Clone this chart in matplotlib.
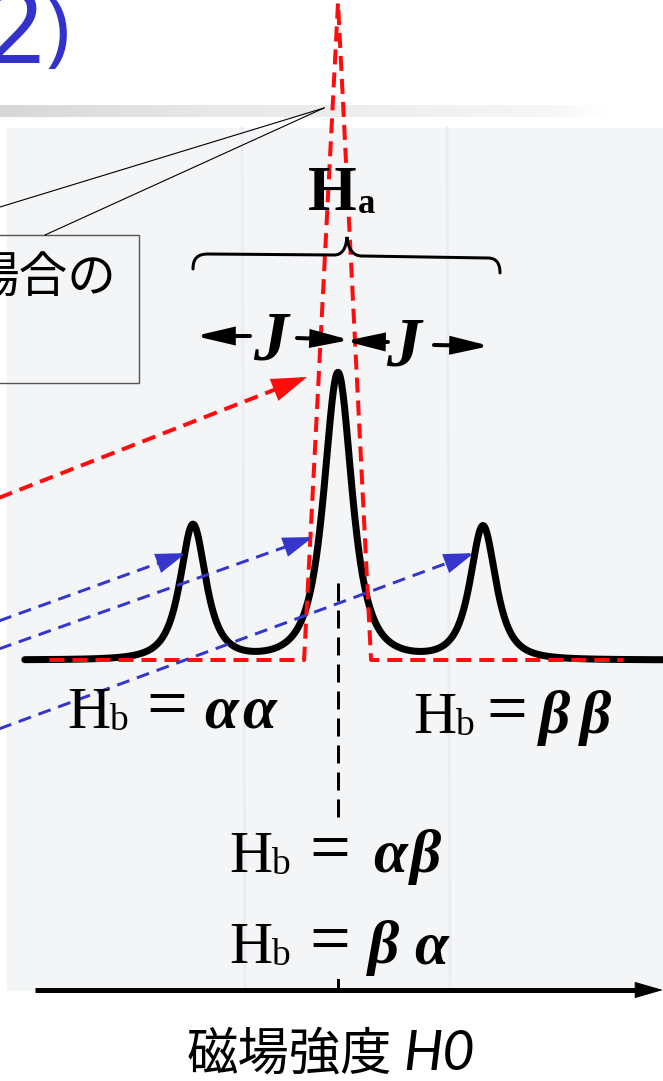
import matplotlib
matplotlib.use('Agg')
import matplotlib.pyplot as plt
import numpy as np
from matplotlib.patches import Rectangle, FancyArrowPatch, PathPatch
from matplotlib.path import Path

plt.rcParams['lines.scale_dashes'] = False

# H_a triplet split by two equivalent H_b; offsets in units of J
peak_pos = [-1.0, 0.0, 1.0]
peak_height = [0.94, 2.0, 0.93]
peak_hwhm = [0.105, 0.115, 0.105]
field_range = [-2.16, 2.24]

# unsplit H_a line (red dashed)
single_x = [-1.99, -0.234, 0.0, 0.228, 1.97]
single_y = [0.0, 0.0, 4.58, 0.0, 0.0]

# arrow targets on the spectrum (offset, intensity)
blue_targets = [(-1.048, 0.745), (-0.172, 0.857), (0.938, 0.745)]
red_target = (-0.214, 1.972)

# H_b spin states for each line
spin_states = [('α', 'α'), ('β', 'β'), ('α', 'β'), ('β', 'α')]

W, H = 663, 1081
CX, JPX, BASE, UPX = 338, 145, 660, 143.5   # spectrum placement on the page (px)
PT = 0.72                                    # px -> pt at 100 dpi

fig = plt.figure(figsize=(W / 100, H / 100), dpi=100)


def page_axes(z):
    ax = fig.add_axes([0, 0, 1, 1], zorder=z)
    ax.set_xlim(0, W)
    ax.set_ylim(H, 0)
    ax.axis('off')
    ax.patch.set_alpha(0)
    return ax


bg = page_axes(0)
spec = fig.add_axes([0, 0, 1, 1], zorder=1)
spec.set_xlim(-CX / JPX, (W - CX) / JPX)
spec.set_ylim((BASE - H) / UPX, BASE / UPX)
spec.axis('off')
spec.patch.set_alpha(0)
top = page_axes(2)

# --- slide background, gradient bar, scanned page ---
bg.add_patch(Rectangle((0, 0), W, H, color='white', zorder=0))
grad = np.interp(np.linspace(0, 1, 400), [0, 0.33, 0.65, 0.9, 1.0],
                 [0.84, 0.905, 0.935, 0.965, 1.0])
bg.imshow(grad[None, :], cmap='gray', vmin=0, vmax=1, aspect='auto',
          extent=(0, 615, 117, 105), zorder=1)
bg.add_patch(Rectangle((7, 128), W - 7, 862, color='#f4f5f7', zorder=1))
for gx in [242, 447]:
    bg.plot([gx, gx + 3], [128, 990], color='#eaecf0', lw=2, zorder=2)

bg.text(44, 63, '2', ha='right', va='baseline', fontsize=74, color='#3333cc',
        family='Noto Sans', zorder=3)
bg.text(46, 56, ')', ha='left', va='baseline', fontsize=58, color='#3333cc',
        family='Noto Sans', zorder=3)

# --- spectrum ---
x = np.linspace(field_range[0], field_range[1], 1500)
w = np.array(peak_hwhm) / np.sqrt(2 ** (2 / 3) - 1)
u = (x[:, None] - np.array(peak_pos)) / w
y = (np.array(peak_height) / (1 + u ** 2) ** 1.5).sum(axis=1)
spec.plot(x, y, color='black', lw=7 * PT, solid_capstyle='round',
          solid_joinstyle='round')

# centre marker (dash line down to the field axis)
spec.plot([0, 0], [0.54, -1.15], color='black', lw=3 * PT, dashes=(18 * PT, 9 * PT))
spec.plot([0, 0], [-2.23, -2.29], color='black', lw=3 * PT)

spec.plot(single_x, single_y, color='#ff0d0d', lw=4 * PT, dashes=(15 * PT, 8 * PT))


def to_page(p):
    return top.transData.inverted().transform(spec.transData.transform(p))


def arrow(ax, start, tip, color, lw, head_len, head_w, dashes=None):
    start = np.asarray(start, float)
    tip = np.asarray(tip, float)
    d = (tip - start) / np.hypot(*(tip - start))
    if dashes is not None:
        base = tip - d * head_len * 0.9
        ax.plot([start[0], base[0]], [start[1], base[1]], color=color,
                lw=lw * PT, dashes=dashes)
        start = tip - d * head_len * 1.05
    style = f'-|>,head_length={head_len * PT},head_width={head_w * PT}'
    ax.add_patch(FancyArrowPatch(start, tip, arrowstyle=style, mutation_scale=1,
                                 color=color, lw=lw * PT, shrinkA=0, shrinkB=0,
                                 joinstyle='miter'))


blue = '#3636cc'
for y0, t in zip([622, 650, 730], blue_targets):
    arrow(top, (-4, y0), to_page(t), blue, 3, 24, 8, dashes=(13 * PT, 8 * PT))
arrow(top, (-4, 499), to_page(red_target), '#ff0d0d', 4, 27, 9,
      dashes=(14 * PT, 8 * PT))

# --- brace and J arrows ---
brace = Path([(193, 269), (193, 259), (197, 254), (208, 254),
              (334, 255),
              (342, 255), (346, 249), (347, 237),
              (348, 249), (353, 256), (362, 256),
              (488, 258),
              (496, 258), (500, 263), (500, 273)],
             [Path.MOVETO, Path.CURVE4, Path.CURVE4, Path.CURVE4,
              Path.LINETO,
              Path.CURVE4, Path.CURVE4, Path.CURVE4,
              Path.CURVE4, Path.CURVE4, Path.CURVE4,
              Path.LINETO,
              Path.CURVE4, Path.CURVE4, Path.CURVE4])
top.add_patch(PathPatch(brace, fill=False, lw=3 * PT, color='black',
                        capstyle='round'))

for a, b in [((250, 336), (195, 336)), ((297, 338), (350, 340)),
             ((388, 342), (345, 341)), ((434, 345), (490, 346))]:
    arrow(top, a, b, 'black', 4, 30, 7)

serif = 'Liberation Serif'
top.text(332, 210, 'H', ha='center', va='baseline', fontsize=45, family=serif,
         weight='bold')
top.text(358, 213, 'a', ha='left', va='baseline', fontsize=25, family=serif,
         weight='bold')
top.text(271, 360, 'J', ha='center', va='baseline', fontsize=50, family=serif,
         style='italic', weight='bold')
top.text(404, 366, 'J', ha='center', va='baseline', fontsize=50, family=serif,
         style='italic', weight='bold')


def hb(xh, xeq, xs, base, state):
    top.text(xh, base, 'H', ha='left', va='baseline', fontsize=43, family=serif)
    top.text(xh + 42, base + 2, 'b', ha='left', va='baseline', fontsize=27,
             family=serif)
    top.text(xeq, base - 1, '=', ha='center', va='baseline', fontsize=52,
             family=serif)
    for xg, g in zip(xs, state):
        top.text(xg, base, g, ha='left', va='baseline', fontsize=44,
                 family=serif, style='italic', weight='bold')


hb(67, 167, (204, 242), 728, spin_states[0])
hb(413, 507, (539, 580), 733, spin_states[1])
hb(229, 330, (373, 410), 872, spin_states[2])
hb(229, 330, (368, 414), 963, spin_states[3])

# --- field axis ---
top.plot([35, 640], [990, 990], color='black', lw=5 * PT, solid_capstyle='butt')
arrow(top, (630, 990), (663, 990), 'black', 1, 26, 7.5)
top.text(187, 1055, '磁場強度', ha='left', va='center', fontsize=37,
         family=['Noto Sans CJK JP'])
top.text(403, 1055, 'H0', ha='left', va='center', fontsize=40,
         family=['Lato', 'DejaVu Sans'], style='italic', color='black')

# --- callout box ---
top.add_patch(Rectangle((-2, 235), 141, 148, fill=False, ec='#555555', lw=1.0))
top.plot([0, 324], [207, 108], color='black', lw=0.8)
top.plot([45, 324], [235, 108], color='black', lw=0.8)
top.text(116, 279, '場合の', ha='right', va='center', fontsize=35,
         family=['Noto Sans CJK JP'])

fig.savefig('out.png', dpi=100)
